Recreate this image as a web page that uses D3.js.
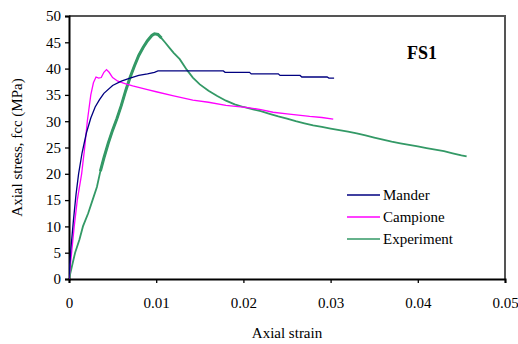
<!DOCTYPE html>
<html>
<head>
<meta charset="utf-8">
<script src="https://cdn.jsdelivr.net/npm/d3@7"></script>
<style>
  html, body { margin: 0; padding: 0; background: #fff; }
  svg { display: block; font-family: "Liberation Serif", "Times New Roman", serif; }
</style>
</head>
<body>
<svg id="chart" width="518" height="344"></svg>
<script>
// ---- data ----
const xTicks = [0, 0.01, 0.02, 0.03, 0.04, 0.05];
const xTickLabels = ["0", "0.01", "0.02", "0.03", "0.04", "0.05"];
const yTicks = [0, 5, 10, 15, 20, 25, 30, 35, 40, 45, 50];

const seriesNames = ["Mander", "Campione", "Experiment"];
const seriesColors = ["#000080", "#FF00FF", "#339966"];

const manderStrain = [0, 0.0002, 0.0005, 0.0008, 0.0011, 0.0015, 0.002, 0.0025, 0.003, 0.0035, 0.004, 0.005, 0.006, 0.007, 0.008, 0.009, 0.0098, 0.0102, 0.0177, 0.0179, 0.0207, 0.0209, 0.024, 0.0242, 0.0265, 0.0267, 0.0296, 0.0298, 0.0304];
const manderStress = [0, 5.5, 11, 16, 20, 24, 27.8, 30.6, 32.7, 34.1, 35.3, 36.8, 37.6, 38.2, 38.7, 39.0, 39.3, 39.55, 39.55, 39.3, 39.3, 39.0, 39.0, 38.7, 38.7, 38.4, 38.4, 38.2, 38.2];

const campioneStrain = [0, 0.0003, 0.0006, 0.00095, 0.00145, 0.0018, 0.0021, 0.0025, 0.0028, 0.0031, 0.0034, 0.0037, 0.004, 0.0043, 0.0046, 0.005, 0.0056, 0.0065, 0.0073, 0.009, 0.01, 0.012, 0.0142, 0.016, 0.018, 0.0205, 0.022, 0.0234, 0.025, 0.0276, 0.029, 0.0303];
const campioneStress = [0, 5, 10, 15, 20, 25, 30, 35, 37.3, 38.4, 38.2, 38.3, 39.3, 39.8, 39.3, 38.3, 37.6, 37.1, 36.7, 36.0, 35.6, 34.8, 34.0, 33.6, 33.0, 32.6, 32.2, 31.7, 31.4, 30.9, 30.7, 30.4];

const experimentStrain = [0, 0.0007, 0.0012, 0.0016, 0.0022, 0.0027, 0.0032, 0.0036, 0.004, 0.0045, 0.005, 0.0055, 0.006, 0.0065, 0.007, 0.0075, 0.008, 0.0085, 0.009, 0.0095, 0.0098, 0.0102, 0.0106, 0.011, 0.0115, 0.012, 0.0127, 0.0135, 0.0142, 0.015, 0.016, 0.017, 0.018, 0.019, 0.02, 0.021, 0.022, 0.023, 0.024, 0.025, 0.026, 0.027, 0.028, 0.029, 0.03, 0.031, 0.032, 0.033, 0.034, 0.035, 0.036, 0.037, 0.038, 0.039, 0.04, 0.041, 0.042, 0.043, 0.044, 0.045, 0.0456];
const experimentStress = [0, 5, 7.5, 10, 12.5, 15, 17.5, 20.5, 23, 25.8, 28.3, 30.5, 33, 35.8, 38.3, 40.5, 42.5, 44, 45.3, 46.3, 46.6, 46.5, 45.8, 45, 44, 43, 41.8, 39.8, 38.3, 37, 35.8, 34.8, 33.9, 33.2, 32.7, 32.3, 31.9, 31.4, 30.9, 30.5, 30, 29.6, 29.2, 28.9, 28.6, 28.3, 28, 27.7, 27.3, 26.9, 26.5, 26.1, 25.8, 25.5, 25.2, 24.9, 24.6, 24.3, 23.9, 23.5, 23.3];

// ---- layout ----
const plot = { left: 69, right: 505, top: 16, bottom: 279 };
const svg = d3.select("#chart");

const x = d3.scaleLinear().domain([0, 0.05]).range([plot.left, plot.right]);
const y = d3.scaleLinear().domain([0, 50]).range([plot.bottom, plot.top]);

// frame (top & right in grey)
svg.append("path")
  .attr("d", `M${plot.left},${plot.top}H${plot.right}V${plot.bottom}`)
  .attr("fill", "none").attr("stroke", "#555").attr("stroke-width", 2);

// axes
const xAxis = svg.append("g")
  .attr("transform", `translate(0,${plot.bottom})`)
  .call(d3.axisBottom(x).tickValues(xTicks).tickFormat((d, i) => xTickLabels[i]).tickSize(4).tickPadding(14));
const yAxis = svg.append("g")
  .attr("transform", `translate(${plot.left},0)`)
  .call(d3.axisLeft(y).tickValues(yTicks).tickSize(4).tickPadding(4));

[xAxis, yAxis].forEach(g => {
  g.select(".domain").attr("stroke", "#000").attr("stroke-width", 2);
  g.selectAll(".tick line").attr("stroke", "#000").attr("stroke-width", 1.3);
  g.selectAll(".tick text").attr("fill", "#000")
    .style("font-family", '"Liberation Serif", serif').style("font-size", "15px");
});

// lines
const line = d3.line().x(d => x(d[0])).y(d => y(d[1]));
const zip = (a, b) => a.map((v, i) => [v, b[i]]);
const manderData = zip(manderStrain, manderStress);
const campioneData = zip(campioneStrain, campioneStress);
const experimentData = zip(experimentStrain, experimentStress);

const clip = svg.append("defs").append("clipPath").attr("id", "clip")
  .append("rect").attr("x", plot.left).attr("y", plot.top)
  .attr("width", plot.right - plot.left).attr("height", plot.bottom - plot.top);

const lines = svg.append("g").attr("clip-path", "url(#clip)");
lines.append("path").datum(experimentData)
  .attr("d", line).attr("fill", "none").attr("stroke", seriesColors[2]).attr("stroke-width", 1.8);
// noisy thick segment of the experimental curve
lines.append("path").datum(experimentData.filter(d => d[0] >= 0.0036 && d[0] <= 0.0106))
  .attr("d", line).attr("fill", "none").attr("stroke", seriesColors[2]).attr("stroke-width", 3);
lines.append("path").datum(campioneData)
  .attr("d", line).attr("fill", "none").attr("stroke", seriesColors[1]).attr("stroke-width", 1.3);
lines.append("path").datum(manderData)
  .attr("d", line).attr("fill", "none").attr("stroke", seriesColors[0]).attr("stroke-width", 1.3);

// axis titles
svg.append("text")
  .attr("x", (plot.left + plot.right) / 2).attr("y", 338)
  .attr("text-anchor", "middle").style("font-size", "15px").text("Axial strain");
svg.append("text")
  .attr("transform", `translate(22,${(plot.top + plot.bottom) / 2}) rotate(-90)`)
  .attr("text-anchor", "middle").style("font-size", "15px").text("Axial stress, fcc (MPa)");

// label
svg.append("text")
  .attr("x", 422).attr("y", 59).attr("text-anchor", "middle")
  .style("font-size", "18px").style("font-weight", "bold").text("FS1");

// legend
const legend = svg.append("g");
seriesNames.forEach((name, i) => {
  const ly = 195 + i * 22;
  legend.append("line").attr("x1", 347).attr("x2", 380).attr("y1", ly).attr("y2", ly)
    .attr("stroke", seriesColors[i]).attr("stroke-width", 1.5);
  legend.append("text").attr("x", 383).attr("y", ly + 5)
    .style("font-size", "15px").text(name);
});
</script>
</body>
</html>
